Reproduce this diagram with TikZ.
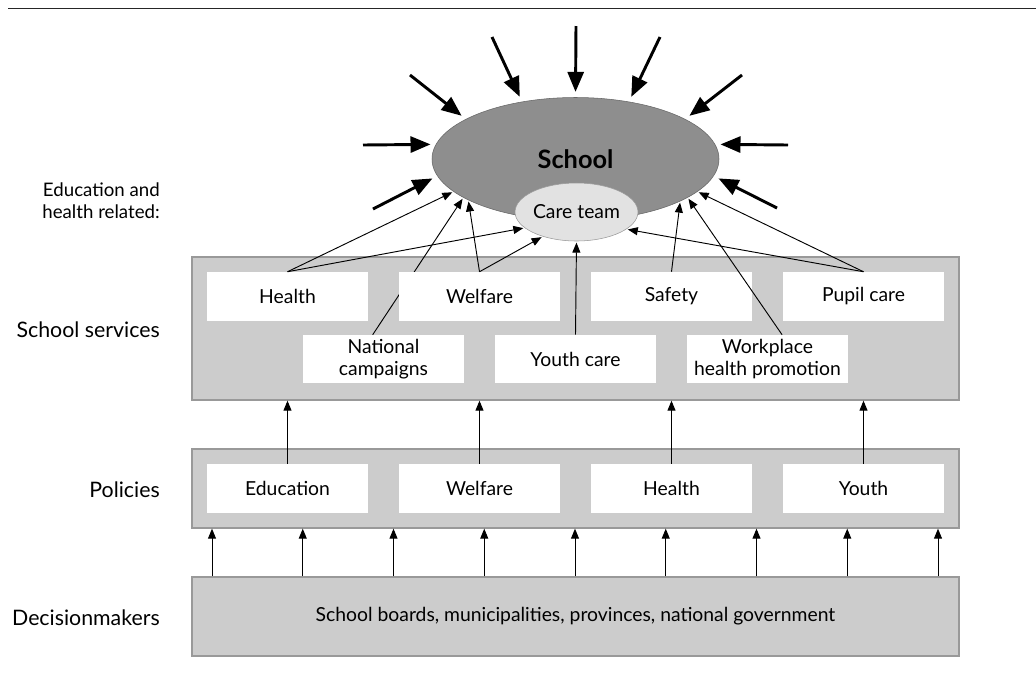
\documentclass[tikz,border=0pt]{standalone}
\usepackage{fontspec}
\setmainfont{Lato}
\usetikzlibrary{shapes,arrows.meta,positioning}
\definecolor{bandgray}{HTML}{CCCCCC}
\definecolor{edgegray}{HTML}{999999}
\definecolor{schoolgray}{HTML}{8E8E8E}
\definecolor{teamgray}{HTML}{E2E2E2}
\def \px {0.75pt}
\tikzstyle{band} = [draw=edgegray,fill=bandgray,line width=1pt,rectangle,inner sep=0,minimum width=767*\px,font=\fontsize{14.5}{16.5}\selectfont]
\tikzstyle{item} = [fill=white,rectangle,inner sep=0,minimum width=161*\px,minimum height=49*\px,align=center,font=\fontsize{14.5}{16.5}\selectfont]
\tikzstyle{sidetext} = [anchor=east,align=right,inner sep=0,font=\fontsize{16}{16.5}\selectfont]
\tikzstyle{inflow} = [line width=2.2pt,-{Triangle[length=15pt,width=12pt]},shorten >=4pt]
\tikzstyle{link} = [line width=0.7pt,-{Triangle[length=7.5pt,width=6pt]},shorten >=1pt]
\tikzstyle{rise} = [line width=0.7pt,-{Triangle[length=7.5pt,width=6pt]}]

\begin{document}
\begin{tikzpicture}[x=\px,y=-\px]
      \useasboundingbox (0,0) rectangle (1036,676);
      \draw[line width=1.4pt,black!85] (8,8.5) -- (1036,8.5);
      % layers
      \node[band,minimum height=143*\px] (services) at (575.5,328.5) {};
      \node[band,minimum height=79*\px] (policies) at (575.5,488.5) {};
      \node[band,minimum height=79*\px] (deciders) at (575.5,616.5) {School boards, municipalities, provinces, national government};
      \node[sidetext,font=\fontsize{14}{16.5}\selectfont] (lbrelated) at (160,201) {Education and\\health related:};
      \node[sidetext] (lbservices) at (160,330) {School services};
      \node[sidetext] (lbpolicies) at (160,490) {Policies};
      \node[sidetext] (lbdeciders) at (160,618) {Decisionmakers};
      % school and care team
      \node[ellipse,draw=black!60,fill=schoolgray,inner sep=0,minimum width=287*\px,minimum height=123*\px,font=\fontsize{19}{20}\selectfont\bfseries] (school) at (575.5,159) {School};
      \node[ellipse,draw=edgegray,fill=teamgray,inner sep=0,minimum width=109*\px,minimum height=58*\px,font=\fontsize{14.5}{16.5}\selectfont] (careteam) at (576.5,212) {Care team};
      % school services
      \node[item,minimum height=48*\px] (svcampaign) at (383.5,359) {National\\campaigns};
      \draw[link] (svcampaign.114) -- (school.199.6);
      \node[item] (svhealth) at (287.5,296.5) {Health};
      \node[item] (svwelfare) at (479.5,296.5) {Welfare};
      \node[item] (svsafety) at (671.5,296.5) {Safety};
      \node[item] (svpupil) at (863.5,296.5) {Pupil care};
      \node[item,minimum height=48*\px] (svyouth) at (575.5,359) {Youth care};
      \node[item,minimum height=48*\px] (svworkplace) at (767.5,359) {Workplace\\health promotion};
      % policies
      \node[item] (poleducation) at (287.5,488.5) {Education};
      \node[item] (polwelfare) at (479.5,488.5) {Welfare};
      \node[item] (polhealth) at (671.5,488.5) {Health};
      \node[item] (polyouth) at (863.5,488.5) {Youth};
      % outside influences
      \coordinate (src1) at (363,145);
      \coordinate (src2) at (410,75);
      \coordinate (src3) at (492,37);
      \coordinate (src4) at (576,26);
      \coordinate (src5) at (660,37);
      \coordinate (src6) at (742,75);
      \coordinate (src7) at (788,145);
      \coordinate (src8) at (373,209);
      \coordinate (src9) at (777,208);
      \draw[inflow] (src1) -- (school.174);
      \draw[inflow] (src2) -- (school.160);
      \draw[inflow] (src3) -- (school.133);
      \draw[inflow] (src4) -- (school.90);
      \draw[inflow] (src5) -- (school.47);
      \draw[inflow] (src6) -- (school.20);
      \draw[inflow] (src7) -- (school.6);
      \draw[inflow] (src8) -- (school.187);
      \draw[inflow] (src9) -- (school.353);
      % services to school
      \draw[link] (svhealth.north) -- (school.195.2);
      \draw[link] (svhealth.north) -- (careteam.197.9);
      \draw[link] (svwelfare.north) -- (school.201.5);
      \draw[link] (svwelfare.north) -- (careteam.216.7);
      \draw[link] (svyouth.north) -- (careteam.south);
      \draw[link] (svsafety.north) -- (school.338.5);
      \draw[link] (svworkplace.59) -- (school.341.5);
      \draw[link] (svpupil.north) -- (school.345);
      \draw[link] (svpupil.north) -- (careteam.341.7);
      % policies to services
      \draw[rise] (poleducation.north) -- (services.south -| poleducation.north);
      \draw[rise] (polwelfare.north) -- (services.south -| polwelfare.north);
      \draw[rise] (polhealth.north) -- (services.south -| polhealth.north);
      \draw[rise] (polyouth.north) -- (services.south -| polyouth.north);
      % decisionmakers to policies
      \draw[rise] (212,0 |- deciders.north) -- (212,0 |- policies.south);
      \draw[rise] (302.75,0 |- deciders.north) -- (302.75,0 |- policies.south);
      \draw[rise] (393.5,0 |- deciders.north) -- (393.5,0 |- policies.south);
      \draw[rise] (484.25,0 |- deciders.north) -- (484.25,0 |- policies.south);
      \draw[rise] (575,0 |- deciders.north) -- (575,0 |- policies.south);
      \draw[rise] (665.75,0 |- deciders.north) -- (665.75,0 |- policies.south);
      \draw[rise] (756.5,0 |- deciders.north) -- (756.5,0 |- policies.south);
      \draw[rise] (847.25,0 |- deciders.north) -- (847.25,0 |- policies.south);
      \draw[rise] (938,0 |- deciders.north) -- (938,0 |- policies.south);
    \end{tikzpicture}
\end{document}
